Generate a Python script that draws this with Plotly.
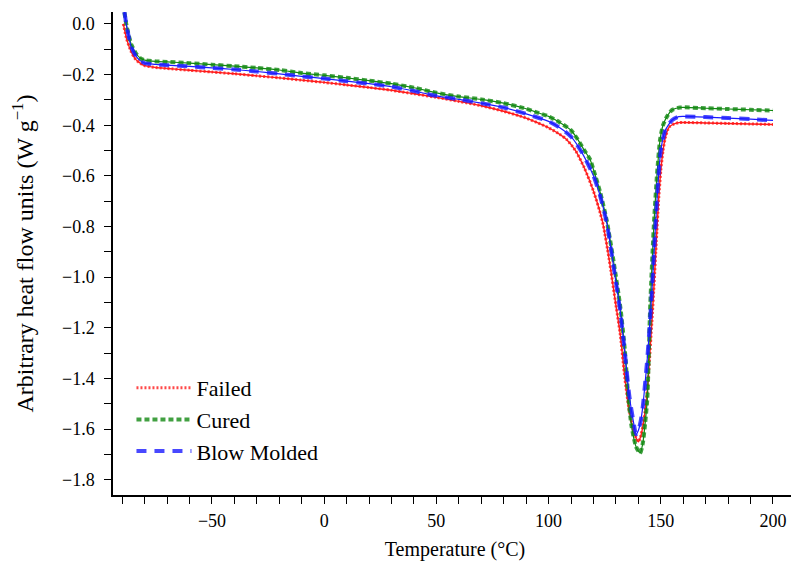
import plotly.graph_objects as go

# ---- data (Temperature °C, heat flow W/g) ----
failed_x = [-89.5, -88, -86, -84, -82, -80, -75, -70, -60, -50, -40, -30, -20, -10, 0, 10, 20, 30, 40, 50,
            60, 70, 80, 90, 95, 100, 105, 108, 112, 116, 120, 124, 127, 130, 132, 134, 136, 138, 139, 140,
            141, 142, 143, 144, 145, 146, 147, 148, 149, 150, 151, 152, 153, 154, 156, 158, 160, 170, 180, 190, 200]
failed_y = [0.0, -0.06, -0.11, -0.14, -0.155, -0.165, -0.172, -0.176, -0.183, -0.190, -0.197, -0.205, -0.213,
            -0.222, -0.231, -0.241, -0.251, -0.262, -0.276, -0.290, -0.306, -0.323, -0.345, -0.372, -0.390,
            -0.410, -0.436, -0.456, -0.500, -0.570, -0.660, -0.780, -0.930, -1.110, -1.230, -1.400, -1.530,
            -1.610, -1.635, -1.650, -1.630, -1.590, -1.530, -1.450, -1.320, -1.180, -1.030, -0.860, -0.700,
            -0.580, -0.500, -0.450, -0.420, -0.405, -0.395, -0.390, -0.389, -0.391, -0.393, -0.395, -0.397]

cured_x = [-89, -88, -86, -84, -82, -80, -75, -70, -60, -50, -40, -30, -20, -10, 0, 10, 20, 30, 40, 50,
           60, 70, 80, 90, 95, 100, 105, 110, 113, 116, 118.5, 120, 123, 126, 129, 132, 134, 135.5, 137, 139,
           140.8, 142, 143, 144, 145.3, 147, 148.4, 149.7, 151, 152.8, 155, 158.6, 170, 180, 190, 200]
cured_y = [0.045, -0.01, -0.08, -0.115, -0.135, -0.143, -0.148, -0.150, -0.155, -0.161, -0.167, -0.174,
           -0.182, -0.194, -0.203, -0.213, -0.224, -0.236, -0.252, -0.272, -0.287, -0.298, -0.313, -0.335,
           -0.350, -0.365, -0.389, -0.420, -0.456, -0.500, -0.535, -0.575, -0.665, -0.780, -0.940, -1.120,
           -1.290, -1.470, -1.590, -1.670, -1.695, -1.655, -1.580, -1.480, -1.110, -0.780, -0.585, -0.456,
           -0.400, -0.365, -0.340, -0.330, -0.333, -0.336, -0.339, -0.342]

blow_x = [-89, -88, -86, -84, -82, -80, -75, -70, -60, -50, -40, -30, -20, -10, 0, 10, 20, 30, 40, 50,
          60, 70, 80, 90, 100, 105, 110, 115, 120, 123, 126, 129, 132, 134, 136, 138, 139, 140, 141, 142,
          143, 144, 145, 146, 147, 148, 149, 150, 152, 155, 158, 160, 170, 180, 190, 200]
blow_y = [0.047, -0.01, -0.09, -0.125, -0.145, -0.155, -0.160, -0.163, -0.168, -0.174, -0.180, -0.188,
          -0.197, -0.207, -0.216, -0.226, -0.236, -0.248, -0.265, -0.284, -0.298, -0.313, -0.330, -0.355,
          -0.385, -0.410, -0.445, -0.510, -0.600, -0.680, -0.790, -0.960, -1.140, -1.300, -1.470, -1.580,
          -1.620, -1.605, -1.570, -1.510, -1.420, -1.320, -1.200, -1.060, -0.900, -0.740, -0.600, -0.500,
          -0.420, -0.380, -0.366, -0.365, -0.368, -0.372, -0.376, -0.381]

x_ticks = [-50, 0, 50, 100, 150, 200]
y_ticks = [0.0, -0.2, -0.4, -0.6, -0.8, -1.0, -1.2, -1.4, -1.6, -1.8]

FONT = "Liberation Serif"

fig = go.Figure()

series = [
    ("Failed", failed_x, failed_y, "#ff1a1a", 1.4, 3, "2px,2px"),
    ("Cured", cured_x, cured_y, "#118811", 1.2, 4, "5px,3px"),
    ("Blow Molded", blow_x, blow_y, "#1a1aff", 1.2, 4, "10px,8px"),
]

for name, xs, ys, col, w_thin, w_thick, dash in series:
    # thin continuous base line
    fig.add_trace(go.Scatter(x=xs, y=ys, mode="lines", name=name, legendgroup=name,
                             showlegend=False,
                             line=dict(color=col, width=w_thin, shape="spline", smoothing=0.6)))
    # patterned overlay
    fig.add_trace(go.Scatter(x=xs, y=ys, mode="lines", name=name, legendgroup=name,
                             showlegend=True, opacity=0.8,
                             line=dict(color=col, width=w_thick, dash=dash,
                                       shape="spline", smoothing=0.6)))

# the page body adds an 8px offset, so the figure is 8px smaller than the window
fig.update_layout(
    width=791, height=557,
    margin=dict(l=105, r=2, t=4, b=70),
    paper_bgcolor="white", plot_bgcolor="white",
    font=dict(family=FONT, size=18, color="black"),
    showlegend=True,
    legend=dict(x=0.027, y=0.265, xanchor="left", yanchor="top",
                font=dict(family=FONT, size=22, color="black"),
                bgcolor="rgba(0,0,0,0)", tracegroupgap=0, itemwidth=55),
    xaxis=dict(range=[-94.1, 210.7], tickvals=x_ticks, showline=True, linecolor="black", linewidth=1.5,
               ticks="outside", ticklen=7, tickwidth=1.2, tickcolor="black", automargin=False,
               minor=dict(dtick=10, ticks="outside", ticklen=7, tickwidth=1.2, tickcolor="black"),
               showgrid=False, zeroline=False, ticklabelstandoff=2,
               title=dict(text="Temperature (°C)", font=dict(family=FONT, size=20), standoff=12),
               tickfont=dict(family=FONT, size=18)),
    yaxis=dict(range=[-1.86, 0.047], tickvals=y_ticks, tickformat=".1f", showline=True,
               linecolor="black", linewidth=1.5, automargin=False,
               ticks="outside", ticklen=7, tickwidth=1.2, tickcolor="black", ticklabelstandoff=6,
               minor=dict(dtick=0.1, tick0=0, ticks="outside", ticklen=7, tickwidth=1.2, tickcolor="black"),
               showgrid=False, zeroline=False,
               title=dict(text="Arbitrary heat flow units (W g<sup>−1</sup>)",
                          font=dict(family=FONT, size=24), standoff=30),
               tickfont=dict(family=FONT, size=18)),
)

fig.write_html("out.html")
